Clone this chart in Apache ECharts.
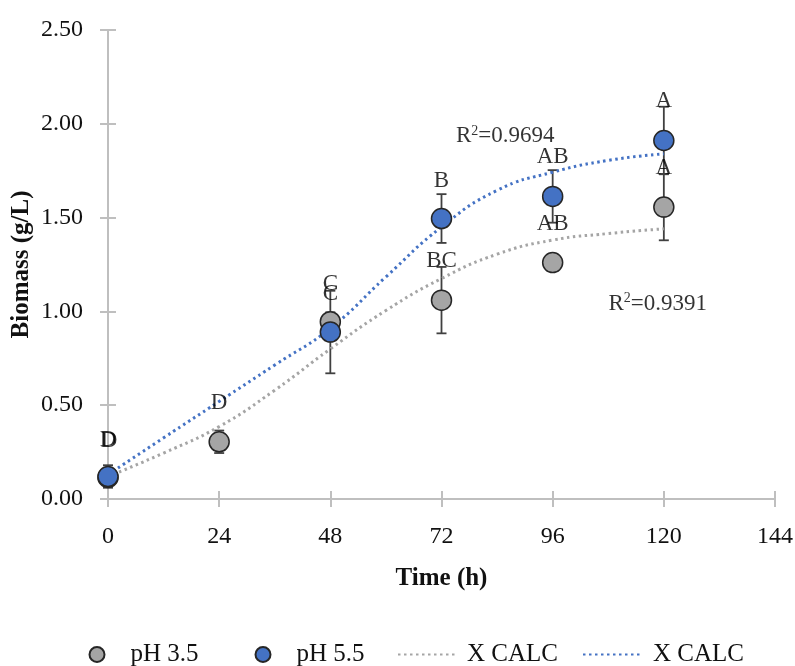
<!DOCTYPE html>
<html>
<head>
<meta charset="utf-8">
<script src="https://cdn.jsdelivr.net/npm/echarts@6/dist/echarts.min.js"></script>
<style>
html,body{margin:0;padding:0;background:#fff;}
#chart{width:795px;height:666px;}
</style>
</head>
<body>
<div id="chart"></div>
<script>
// ---- data ----
const times = [0, 24, 48, 72, 96, 120];
const ph35 = [0.115, 0.305, 0.945, 1.06, 1.26, 1.556];
const ph35Err = [0.02, 0.06, 0.05, 0.177, 0.02, 0.177];
const ph55 = [0.12, null, 0.89, 1.495, 1.613, 1.911];
const ph55Err = [0.06, null, 0.22, 0.13, 0.14, 0.18];

const fitTimes = [0, 12, 24, 36, 48, 60, 72, 84, 96, 108, 120];
const fit35 = [0.12, 0.245, 0.386, 0.58, 0.80, 1.005, 1.175, 1.305, 1.38, 1.415, 1.44];
const fit55 = [0.13, 0.326, 0.52, 0.714, 0.91, 1.184, 1.45, 1.645, 1.742, 1.805, 1.84];

const letterX = [0, 0.25, 24, 48, 48, 72, 72, 96, 96, 120, 120];
const letterY = [0.315, 0.31, 0.51, 1.148, 1.092, 1.698, 1.268, 1.822, 1.468, 2.12, 1.762];
const letterText = ['D', 'D', 'D', 'C', 'C', 'B', 'BC', 'AB', 'AB', 'A', 'A'];

const r2X = [85.75, 118.7];
const r2Y = [1.933, 1.042];
const r2Text = ['0.9694', '0.9391'];

const xTicks = {min: 0, max: 144, interval: 24};
const yTicks = {min: 0, max: 2.5, interval: 0.5};

// ---- chart ----
const GRAY = '#a5a5a5', BLUE = '#4472c4', AXIS = '#bfbfbf', TXT = '#111';
const FONT = '"Liberation Serif", "Times New Roman", serif';

function errData(vals, errs) {
  const out = [];
  times.forEach((t, i) => {
    if (vals[i] != null) out.push([t, vals[i] - errs[i], vals[i] + errs[i]]);
  });
  return out;
}
function errRender(params, api) {
  const x = api.value(0), lo = api.value(1), hi = api.value(2);
  const a = api.coord([x, lo]), b = api.coord([x, hi]);
  const w = 5;
  const st = {stroke: '#404040', lineWidth: 1.8};
  return {type: 'group', children: [
    {type: 'line', shape: {x1: a[0], y1: a[1], x2: b[0], y2: b[1]}, style: st},
    {type: 'line', shape: {x1: a[0] - w, y1: a[1], x2: a[0] + w, y2: a[1]}, style: st},
    {type: 'line', shape: {x1: b[0] - w, y1: b[1], x2: b[0] + w, y2: b[1]}, style: st}
  ]};
}
const pts = (vals) => times.map((t, i) => vals[i] == null ? null : [t, vals[i]]).filter(d => d);

const chart = echarts.init(document.getElementById('chart'), null, {renderer: 'canvas'});
const axisLineStyle = {color: AXIS, width: 2};
const hiddenSym = {color: 'rgba(0,0,0,0)', borderWidth: 0, opacity: 0};
function legendOf(item, left, iw, padLeft) {
  return {
    data: [item], left: left, top: 642, padding: 0, itemWidth: iw, itemHeight: 15,
    formatter: n => n.trim(), symbolKeepAspect: true,
    textStyle: {fontFamily: FONT, fontSize: 25, color: TXT, padding: [0, 0, 0, padLeft]}
  };
}
const option = {
  animation: false,
  backgroundColor: '#fff',
  textStyle: {fontFamily: FONT},
  grid: {left: 108, right: 20, top: 30, bottom: 167, containLabel: false, outerBoundsMode: 'none'},
  xAxis: [{
    type: 'value', min: xTicks.min, max: xTicks.max, interval: xTicks.interval,
    name: 'Time (h)', nameLocation: 'middle', nameGap: 67, nameMoveOverlap: false,
    nameTextStyle: {fontFamily: FONT, fontSize: 25, fontWeight: 'bold', color: TXT},
    axisLine: {show: true, lineStyle: axisLineStyle},
    axisTick: {show: true, length: 8, lineStyle: axisLineStyle},
    axisLabel: {fontFamily: FONT, fontSize: 24, color: TXT, margin: 26},
    splitLine: {show: false}
  }, {
    type: 'value', min: xTicks.min, max: xTicks.max, interval: xTicks.interval, position: 'bottom',
    axisLine: {show: false}, axisTick: {show: true, inside: true, length: 8, lineStyle: axisLineStyle},
    axisLabel: {show: false}, splitLine: {show: false}
  }],
  yAxis: [{
    type: 'value', min: yTicks.min, max: yTicks.max, interval: yTicks.interval,
    name: 'Biomass (g/L)', nameLocation: 'middle', nameGap: 74, nameRotate: 90, nameMoveOverlap: false,
    nameTextStyle: {fontFamily: FONT, fontSize: 25, fontWeight: 'bold', color: TXT},
    axisLine: {show: true, lineStyle: axisLineStyle},
    axisTick: {show: true, length: 8, lineStyle: axisLineStyle},
    axisLabel: {fontFamily: FONT, fontSize: 24, color: TXT, margin: 25, formatter: v => v.toFixed(2)},
    splitLine: {show: false}
  }, {
    type: 'value', min: yTicks.min, max: yTicks.max, interval: yTicks.interval, position: 'left',
    axisLine: {show: false}, axisTick: {show: true, inside: true, length: 8, lineStyle: axisLineStyle},
    axisLabel: {show: false}, splitLine: {show: false}
  }],
  legend: [
    legendOf('pH 3.5', 88.5, 15, 21),
    legendOf('pH 5.5', 254.5, 15, 21),
    legendOf({name: 'X CALC', itemStyle: hiddenSym}, 397, 58, 6),
    legendOf({name: 'X CALC ', itemStyle: hiddenSym}, 582, 60, 5)
  ],
  series: [
    {type: 'custom', name: 'err35', renderItem: errRender, data: errData(ph35, ph35Err), z: 1, silent: true},
    {type: 'custom', name: 'err55', renderItem: errRender, data: errData(ph55, ph55Err), z: 1, silent: true},
    {type: 'line', name: 'X CALC', data: fitTimes.map((t, i) => [t, fit35[i]]), smooth: true, symbol: 'none',
     lineStyle: {color: GRAY, width: 3, type: [2.5, 3.5]}, itemStyle: {color: GRAY}, z: 2},
    {type: 'line', name: 'X CALC ', data: fitTimes.map((t, i) => [t, fit55[i]]), smooth: true, symbol: 'none',
     lineStyle: {color: BLUE, width: 3, type: [2.5, 3.5]}, itemStyle: {color: BLUE}, z: 2},
    {type: 'scatter', name: 'pH 3.5', data: pts(ph35), symbol: 'circle', symbolSize: 20,
     itemStyle: {color: GRAY, borderColor: '#262626', borderWidth: 1.5, opacity: 1}, z: 3},
    {type: 'scatter', name: 'pH 5.5', data: pts(ph55), symbol: 'circle', symbolSize: 20,
     itemStyle: {color: BLUE, borderColor: '#262626', borderWidth: 1.5, opacity: 1}, z: 4},
    {type: 'scatter', name: 'letters', silent: true, z: 5, symbolSize: 1,
     itemStyle: {color: 'rgba(0,0,0,0)'},
     data: letterX.map((x, i) => ({value: [x, letterY[i]], txt: letterText[i]})),
     label: {show: true, position: 'inside', formatter: p => p.data.txt,
       fontFamily: FONT, fontSize: 23, color: '#000'}},
    {type: 'scatter', name: 'r2', silent: true, z: 5, symbolSize: 1,
     itemStyle: {color: 'rgba(0,0,0,0)'},
     data: r2X.map((x, i) => ({value: [x, r2Y[i]], txt: r2Text[i]})),
     label: {show: true, position: 'inside', formatter: p => 'R{s|2}=' + p.data.txt,
       fontFamily: FONT, fontSize: 23, color: '#000',
       rich: {s: {fontFamily: FONT, fontSize: 14, color: '#000', verticalAlign: 'top', padding: [0, 0, 10, 0]}}}}
  ]
};
chart.setOption(option);
</script>
</body>
</html>
